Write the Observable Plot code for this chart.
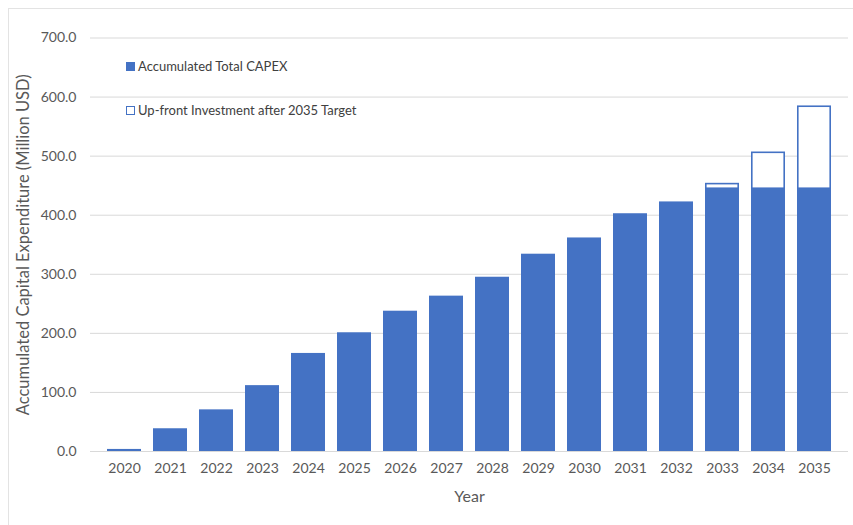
<!DOCTYPE html>
<html>
<head>
<meta charset="utf-8">
<script src="https://cdn.jsdelivr.net/npm/d3@7"></script>
<script src="https://cdn.jsdelivr.net/npm/@observablehq/plot@0.6"></script>
<style>
  html, body { margin: 0; padding: 0; background: #fff; }
  #wrap { position: relative; width: 853px; height: 525px; overflow: hidden; font-family: Lato, "Open Sans", sans-serif; }
  #frame { position: absolute; left: 8px; top: 8px; width: 850px; height: 520px; border: 1px solid #e3e3e3; box-sizing: border-box; pointer-events: none; }
  #legend { position: absolute; left: 126px; top: 58px; font-size: 13px; color: #404040; }
  .item { display: flex; align-items: center; height: 16px; margin-bottom: 28px; }
  .sw { width: 9px; height: 9px; margin-right: 3px; box-sizing: border-box; }
  svg { position: absolute; left: 0; top: 0; }
</style>
</head>
<body>
<div id="wrap">
  <div id="frame"></div>
  <div id="chart"></div>
  <div id="legend"></div>
</div>
<script>
const years = ["2020","2021","2022","2023","2024","2025","2026","2027","2028","2029","2030","2031","2032","2033","2034","2035"];
const capex = [3.5, 38.5, 70.5, 111.5, 166, 201, 237.5, 263, 295, 334, 361.5, 402.5, 422.5, 443.5, 443.5, 443.5];
const totalWithUpfront = [null, null, null, null, null, null, null, null, null, null, null, null, null, 454, 507, 585];
const yTicks = [0, 100, 200, 300, 400, 500, 600, 700];
const seriesNames = ["Accumulated Total CAPEX", "Up-front Investment after 2035 Target"];

const blue = "#4472C4";
const filled = years.map((y, i) => ({year: y, v: capex[i]}));
const upfront = years.map((y, i) => ({year: y, lo: capex[i], hi: totalWithUpfront[i]})).filter(d => d.hi != null);

const plot = Plot.plot({
  width: 853,
  height: 525,
  marginLeft: 90,
  marginRight: 5,
  marginTop: 37.5,
  marginBottom: 74,
  style: {fontFamily: "Lato, 'Open Sans', sans-serif", fontSize: "14px", color: "#595959", background: "transparent"},
  x: {domain: years, padding: 0.27, label: null, tickSize: 0, tickPadding: 12},
  y: {domain: [0, 700], ticks: yTicks, tickFormat: d => d.toFixed(1), label: null, tickSize: 0, tickPadding: 14},
  marks: [
    Plot.gridY(yTicks, {stroke: "#d9d9d9", strokeOpacity: 1, strokeWidth: 1}),
    Plot.barY(filled, {x: "year", y: "v", fill: blue}),
    Plot.barY(upfront, {x: "year", y1: "lo", y2: "hi", fill: "white", stroke: blue, strokeWidth: 1.6, inset: 0.8}),
    Plot.text(["Year"], {frameAnchor: "bottom", dy: 50, fontSize: 16, fill: "#595959"}),
    Plot.text(["Accumulated Capital Expenditure (Million USD)"], {frameAnchor: "left", textAnchor: "middle", dx: -67, rotate: -90, fontSize: 16.5, fill: "#595959"})
  ]
});
document.getElementById("chart").appendChild(plot);

const legend = document.getElementById("legend");
seriesNames.forEach((name, i) => {
  const item = document.createElement("div");
  item.className = "item";
  const sw = document.createElement("div");
  sw.className = "sw";
  if (i === 0) sw.style.background = blue;
  else { sw.style.background = "#fff"; sw.style.border = "1.3px solid " + blue; }
  const t = document.createElement("span");
  t.textContent = name;
  item.appendChild(sw);
  item.appendChild(t);
  legend.appendChild(item);
});
</script>
</body>
</html>
